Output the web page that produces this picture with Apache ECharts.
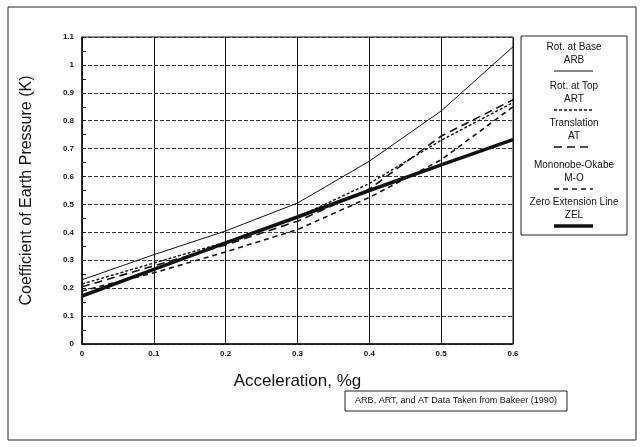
<!DOCTYPE html>
<html>
<head>
<meta charset="utf-8">
<script src="https://cdn.jsdelivr.net/npm/echarts@6/dist/echarts.min.js"></script>
<style>
  html, body { margin: 0; padding: 0; background: #fff; }
  #chart { width: 643px; height: 447px; }
</style>
</head>
<body>
<div id="chart"></div>
<script>
// acceleration (%g) on x axis
const accel = [0, 0.1, 0.2, 0.3, 0.4, 0.5, 0.6]
// coefficient of earth pressure K
const arb = [0.23, 0.32, 0.405, 0.505, 0.655, 0.835, 1.065]
const art = [0.215, 0.29, 0.365, 0.455, 0.575, 0.73, 0.865]
const at = [0.205, 0.28, 0.355, 0.44, 0.555, 0.745, 0.875]
const mo = [0.19, 0.255, 0.33, 0.41, 0.525, 0.66, 0.85]
const zel = [0.172, 0.267, 0.362, 0.455, 0.55, 0.642, 0.732]

const legendNames = [
  ['Rot. at Base', 'ARB'],
  ['Rot. at Top', 'ART'],
  ['Translation', 'AT'],
  ['Mononobe-Okabe', 'M-O'],
  ['Zero Extension Line', 'ZEL']
]
const note = 'ARB, ART, and AT Data Taken from Bakeer (1990)'

const font = 'Liberation Sans, Arial, sans-serif'
const pairs = arr => accel.map((x, i) => [x, arr[i]])

// line styles, same order as legendNames
const styles = [
  { width: 1, type: 'solid' },
  { width: 1.4, type: [3, 2] },
  { width: 1.6, type: [8, 5] },
  { width: 1.6, type: [5, 4] },
  { width: 3.5, type: 'solid' }
]
const seriesData = [arb, art, at, mo, zel]

const chart = echarts.init(document.getElementById('chart'))

// legend box drawn by hand: name, abbreviation, then line sample underneath
const legendItems = []
const rowY = [47, 86, 123, 165, 202]
legendNames.forEach((n, i) => {
  legendItems.push({
    type: 'text', x: 574, y: rowY[i],
    style: { text: n[0], align: 'center', verticalAlign: 'middle', font: '10px ' + font, fill: '#111' }
  })
  legendItems.push({
    type: 'text', x: 574, y: rowY[i] + 13,
    style: { text: n[1], align: 'center', verticalAlign: 'middle', font: '10px ' + font, fill: '#111' }
  })
  legendItems.push({
    type: 'line',
    shape: { x1: 554, y1: rowY[i] + 24, x2: 593, y2: rowY[i] + 24 },
    style: { stroke: '#111', lineWidth: i === 0 ? 1 : styles[i].width, lineDash: styles[i].type === 'solid' ? null : styles[i].type }
  })
})

let option = {
  backgroundColor: '#fff',
  animation: false,
  grid: {
    left: 82, right: 130, top: 37, bottom: 103,
    show: true, borderColor: '#111', borderWidth: 1
  },
  xAxis: {
    type: 'value', min: 0, max: 0.6, interval: 0.1,
    name: 'Acceleration, %g', nameLocation: 'middle', nameGap: 29,
    nameTextStyle: { fontFamily: font, fontSize: 17, color: '#111' },
    axisLine: { lineStyle: { color: '#111', width: 1.5 } },
    axisTick: { show: false },
    axisLabel: {
      fontFamily: font, fontSize: 8, fontWeight: 'bold', color: '#111', margin: 6,
      formatter: v => String(Math.round(v * 10) / 10)
    },
    splitLine: { show: true, lineStyle: { color: '#111', width: 1 } }
  },
  yAxis: {
    type: 'value', min: 0, max: 1.1, interval: 0.1,
    name: 'Coefficient of Earth Pressure (K)', nameLocation: 'middle', nameGap: 47,
    nameTextStyle: { fontFamily: font, fontSize: 16, color: '#111' },
    axisLine: { show: true, lineStyle: { color: '#111', width: 1.5 } },
    axisTick: { show: true, inside: true, length: 4, lineStyle: { color: '#111' } },
    minorTick: { show: true, splitNumber: 2, length: 4, lineStyle: { color: '#111' } },
    axisLabel: {
      fontFamily: font, fontSize: 8, fontWeight: 'bold', color: '#111', margin: 8,
      formatter: v => String(Math.round(v * 10) / 10)
    },
    splitLine: { show: true, lineStyle: { color: '#333', width: 1, type: [4, 2] } }
  },
  series: legendNames.map((n, i) => ({
    name: n[1],
    type: 'line',
    data: pairs(seriesData[i]),
    showSymbol: false,
    lineStyle: { color: '#111', width: styles[i].width, type: styles[i].type },
    z: i === 4 ? 3 : 2
  })),
  graphic: [
    // outer frame
    { type: 'rect', shape: { x: 8, y: 7, width: 628, height: 433 },
      style: { fill: null, stroke: '#222', lineWidth: 1 }, silent: true },
    // legend box
    { type: 'rect', shape: { x: 521, y: 36, width: 106, height: 199 },
      style: { fill: '#fff', stroke: '#222', lineWidth: 1 } },
    ...legendItems,
    // source note
    { type: 'rect', shape: { x: 345, y: 391, width: 222, height: 20 },
      style: { fill: '#fff', stroke: '#222', lineWidth: 1 } },
    { type: 'text', x: 456, y: 401,
      style: { text: note, align: 'center', verticalAlign: 'middle', font: '9px ' + font, fill: '#111' } }
  ]
}
chart.setOption(option)
</script>
</body>
</html>
